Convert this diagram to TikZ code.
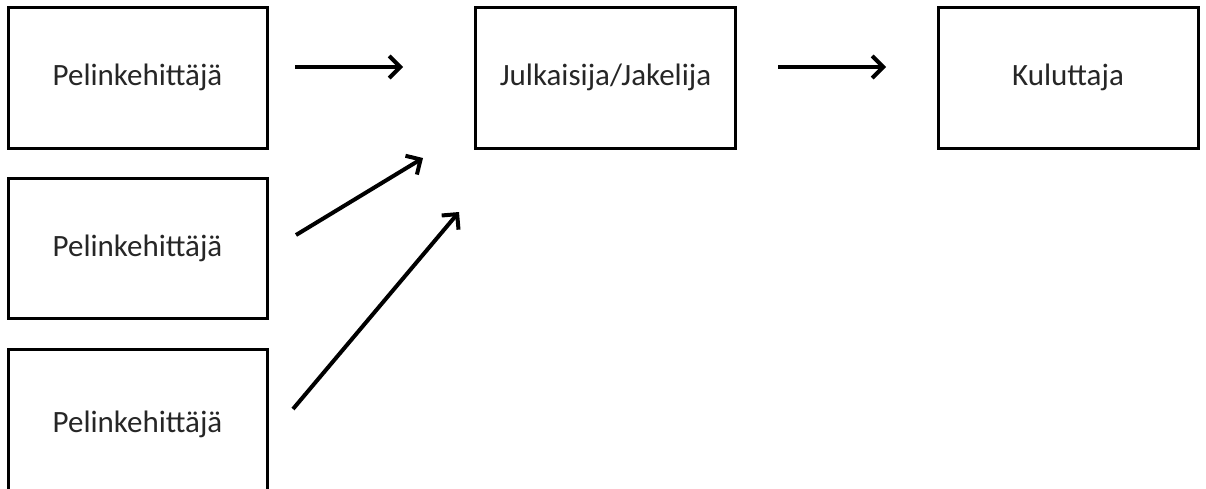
\documentclass[tikz,border=0pt]{standalone}
\usepackage{fontspec}
\setmainfont{Carlito}
\usetikzlibrary{arrows.meta}
\begin{document}
\begin{tikzpicture}[x=1pt,y=-1pt,
  lbl/.style={font=\fontsize{31}{36}\selectfont,text=black!85},
  box/.style={draw=black,line width=3pt,fill=white,inner sep=0pt,lbl},
  arr/.style={line width=4pt,-{Straight Barb[length=11pt,width=22pt,line width=4pt]}}]
\useasboundingbox (0,0) rectangle (1206,488);
\clip (0,0) rectangle (1206,488);
\node[box,minimum width=259pt,minimum height=141pt] (p1) at (137.5,77.5) {\raisebox{-6pt}{Pelinkehittäjä}};
\node[box,minimum width=259pt,minimum height=140pt] (p2) at (137.5,248) {\raisebox{-6pt}{Pelinkehittäjä}};
\node[box,minimum width=259pt,minimum height=180pt] (p3) at (137.5,439) {};
\node[lbl] (p3t) at (137.5,424) {Pelinkehittäjä};
\node[box,minimum width=260pt,minimum height=141pt] (j) at (605.5,77.5) {\raisebox{-6pt}{Julkaisija/Jakelija}};
\node[box,minimum width=260pt,minimum height=141pt] (k) at (1068,77.5) {\raisebox{-6pt}{Kuluttaja}};
\coordinate (a1s) at (295,67); \coordinate (a1e) at (403,67);
\coordinate (a2s) at (296,235); \coordinate (a2e) at (423,158);
\coordinate (a3s) at (293,409); \coordinate (a3e) at (459,212);
\coordinate (a4s) at (778,67); \coordinate (a4e) at (886,67);
\draw[arr] (a1s) -- (a1e);
\draw[arr] (a2s) -- (a2e);
\draw[arr] (a3s) -- (a3e);
\draw[arr] (a4s) -- (a4e);
\end{tikzpicture}
\end{document}
